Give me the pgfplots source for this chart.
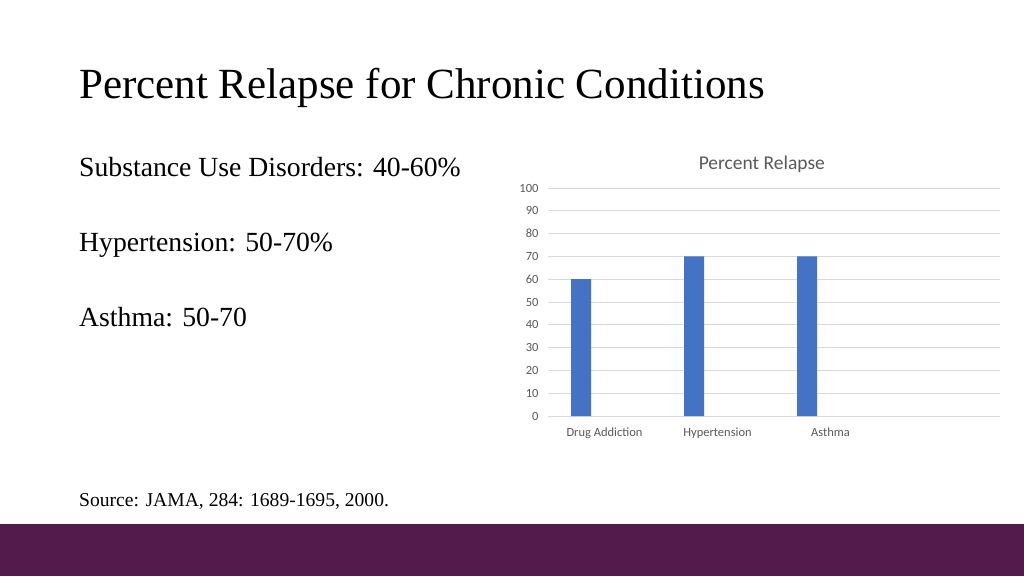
\documentclass[border=0pt]{standalone}
\usepackage{pgfplots}
\pgfplotsset{compat=1.18}
\usepackage{fontspec}
\setmainfont{Liberation Serif}
\newfontfamily\chartfont{Carlito}
\definecolor{barblue}{HTML}{4472C4}
\definecolor{gridgray}{HTML}{D9D9D9}
\definecolor{labelgray}{HTML}{595959}
\definecolor{band}{HTML}{531B4C}

\begin{document}
\begin{tikzpicture}[x=1pt,y=1pt]
  % slide background and bottom band
  \fill[white] (0,0) rectangle (1024,576);
  \fill[band] (0,0) rectangle (1024,52);

  % slide text
  \node[anchor=base west, inner sep=0pt, font=\fontsize{43}{50}\selectfont] at (79,477) {Percent Relapse for Chronic Conditions};
  \node[anchor=base west, inner sep=0pt, font=\fontsize{27.7}{33}\selectfont] at (79,399) {Substance Use Disorders: 40-60\%};
  \node[anchor=base west, inner sep=0pt, font=\fontsize{27.7}{33}\selectfont] at (79,324) {Hypertension: 50-70\%};
  \node[anchor=base west, inner sep=0pt, font=\fontsize{27.7}{33}\selectfont] at (79,250) {Asthma: 50-70};
  \node[anchor=base west, inner sep=0pt, font=\fontsize{19.6}{24}\selectfont] at (79,70) {Source: JAMA, 284: 1689-1695, 2000.};

  \begin{axis}[
    at={(548pt,160pt)}, anchor=south west,
    width=452pt, height=228pt, scale only axis,
    ybar, bar width=20pt, bar shift=-23.5pt,
    xmin=-0.5, xmax=3.5, ymin=0, ymax=100,
    xtick={0,1,2}, xticklabels={Drug Addiction, Hypertension, Asthma},
    ytick={0,10,...,100},
    axis line style={draw=none},
    axis x line*=bottom,
    ymajorgrids, grid style={gridgray, line width=0.8pt},
    major tick length=0pt,
    /pgf/number format/assume math mode=true,
    tick label style={font=\chartfont\fontsize{12.5}{15}\selectfont, text=labelgray},
    yticklabel style={xshift=-6pt},
    xticklabel style={yshift=-8pt},
    title={Percent Relapse},
    title style={font=\chartfont\fontsize{19.5}{23}\selectfont, text=labelgray,
                 at={(axis description cs:0.473,1)}, anchor=south, yshift=6pt},
  ]
    \addplot[fill=barblue, draw=none] coordinates {(0,60) (1,70) (2,70)};
  \end{axis}
\end{tikzpicture}
\end{document}
